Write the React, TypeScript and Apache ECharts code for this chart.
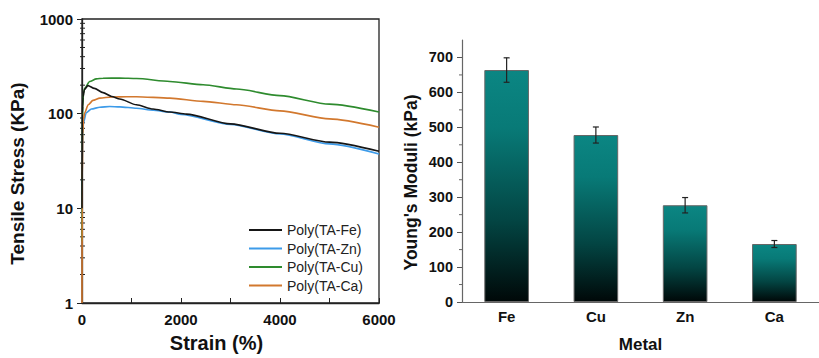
import React, { useEffect, useRef } from "react";
import * as echarts from "echarts";

// ---- Left panel: tensile curves (strain %, stress kPa) ----
const feStrain = [0, 5, 20, 50, 120, 250, 425, 600, 762, 1100, 1436, 1774, 2110, 3000, 4000, 5000, 6000];
const feStress = [10, 100, 150, 180, 198, 185, 167, 152, 143, 124, 112, 104, 99, 78, 62, 50, 40];

const znStrain = [0, 5, 15, 30, 85, 190, 360, 560, 762, 1100, 1436, 1774, 2000, 3000, 4000, 5000, 6000];
const znStress = [8, 30, 60, 80, 102, 112, 117, 119, 118, 114, 109, 104, 98, 77, 61, 48, 37.5];

const cuStrain = [0, 5, 15, 30, 55, 155, 290, 425, 762, 1100, 1774, 2448, 3122, 4000, 5000, 6000];
const cuStress = [4.5, 40, 120, 165, 186, 219, 233, 237, 238, 235, 219, 202, 182, 155, 126, 104];

const caStrain = [0, 5, 15, 30, 55, 125, 222, 360, 600, 900, 1100, 1774, 2448, 3122, 4000, 5000, 6000];
const caStress = [1, 20, 60, 88, 102, 124, 138, 146, 150, 151, 151, 146, 135, 124, 107, 88, 72];

const curveNames = ["Poly(TA-Fe)", "Poly(TA-Zn)", "Poly(TA-Cu)", "Poly(TA-Ca)"];
const logMinor = [2, 3, 4, 5, 6, 7, 8, 9, 20, 30, 40, 50, 60, 70, 80, 90, 200, 300, 400, 500, 600, 700, 800, 900];

// ---- Right panel: Young's moduli ----
const metals = ["Fe", "Cu", "Zn", "Ca"];
const moduli = [664, 478, 277, 166];
const moduliErr = [35, 23, 22, 10];
const modMajor = [0, 100, 200, 300, 400, 500, 600, 700];
const modMinor = [50, 150, 250, 350, 450, 550, 650];

const FONT = "'Liberation Sans', Arial, sans-serif";
const zip = (xs: number[], ys: number[]) => xs.map((x, i) => [x, ys[i]]);
const plain = (v: number) => String(v);

export default function App() {
  const ref = useRef<HTMLDivElement>(null);
  useEffect(() => {
    document.body.style.margin = "0";
    if (!ref.current) return;
    const chart = echarts.init(ref.current, null, { renderer: "svg" });
    const lineColors = ["#161616", "#3d9be9", "#2e8b2e", "#d2782e"];
    const curves = [
      zip(feStrain, feStress),
      zip(znStrain, znStress),
      zip(cuStrain, cuStress),
      zip(caStrain, caStress),
    ];
    // draws short ticks on the left edge of a grid at the given y values
    const tickRenderer = (dx1: number, dx2: number, color: string) => (params: any, api: any) => {
      const y = api.coord([0, api.value(0)])[1];
      const x = params.coordSys.x;
      return {
        type: "line",
        shape: { x1: x + dx1, y1: y, x2: x + dx2, y2: y },
        style: { stroke: color, lineWidth: 1 },
      };
    };
    const option: any = {
      animation: false,
      textStyle: { fontFamily: FONT },
      grid: [
        { left: 82, right: 440, top: 19, bottom: 54, show: true, borderColor: "#222", borderWidth: 1.3, backgroundColor: "transparent" },
        { left: 462, width: 362, top: 40, bottom: 49 },
      ],
      legend: {
        data: curveNames,
        orient: "vertical",
        left: 249,
        top: 221,
        padding: 0,
        itemWidth: 33,
        itemHeight: 2,
        itemGap: 0.5,
        icon: "rect",
        textStyle: { fontSize: 14, color: "#222", fontFamily: FONT, lineHeight: 18 },
      },
      xAxis: [
        {
          type: "value", gridIndex: 0, min: 0, max: 6000, interval: 2000,
          name: "Strain (%)", nameLocation: "middle", nameGap: 30,
          nameTextStyle: { fontSize: 20, fontWeight: "bold", color: "#111", fontFamily: FONT, padding: [0, 28, 0, 0] },
          axisLine: { lineStyle: { color: "#222", width: 1.3 } },
          axisTick: { inside: true, length: 5, lineStyle: { color: "#222" } },
          minorTick: { show: true, splitNumber: 2, length: 5, lineStyle: { color: "#222" } },
          axisLabel: { fontSize: 15, fontWeight: "bold", color: "#111", margin: 9, fontFamily: FONT, formatter: plain },
          splitLine: { show: false },
        },
        {
          type: "category", gridIndex: 1, data: metals, position: "bottom",
          name: "Metal", nameLocation: "middle", nameGap: 34,
          nameTextStyle: { fontSize: 17, fontWeight: "bold", color: "#111", fontFamily: FONT },
          axisLine: { lineStyle: { color: "#666", width: 1.2 } },
          axisTick: { alignWithLabel: true, length: 4, lineStyle: { color: "#555" } },
          axisLabel: { fontSize: 15, fontWeight: "bold", color: "#111", margin: 7, fontFamily: FONT },
        },
        {
          type: "category", gridIndex: 1, data: metals, position: "bottom",
          axisLine: { show: false },
          axisTick: { alignWithLabel: false, length: 2, lineStyle: { color: "#777" } },
          axisLabel: { show: false },
        },
      ],
      yAxis: [
        {
          type: "log", logBase: 10, gridIndex: 0, min: 1, max: 1000, position: "left",
          name: "Tensile Stress (KPa)", nameLocation: "middle", nameGap: 55,
          nameTextStyle: { fontSize: 19, fontWeight: "bold", color: "#111", fontFamily: FONT, padding: [0, 25, 0, 0] },
          axisLine: { show: true, lineStyle: { color: "#222", width: 1.3 } },
          axisTick: { show: true, inside: false, length: 5, lineStyle: { color: "#222" } },
          axisLabel: { fontSize: 15, fontWeight: "bold", color: "#111", margin: 9, fontFamily: FONT, formatter: plain },
          splitLine: { show: false },
        },
        {
          type: "value", gridIndex: 1, min: 0, max: 750, interval: 100, position: "left",
          name: "Young's Moduli (kPa)", nameLocation: "middle", nameGap: 42,
          nameTextStyle: { fontSize: 17.5, fontWeight: "bold", color: "#111", fontFamily: FONT, padding: [0, 23, 0, 0] },
          axisLine: { show: true, lineStyle: { color: "#666", width: 1.2 } },
          axisTick: { show: true, length: 5, customValues: modMajor, lineStyle: { color: "#555" } },
          axisLabel: { fontSize: 14.5, fontWeight: "bold", color: "#111", margin: 9, fontFamily: FONT, customValues: modMajor, formatter: plain },
          splitLine: { show: false },
        },
      ],
      series: [
        ...curves.map((d, i) => ({
          type: "line", name: curveNames[i], xAxisIndex: 0, yAxisIndex: 0,
          data: d, showSymbol: false, smooth: 0.25, smoothMonotone: "x",
          lineStyle: { color: lineColors[i], width: 1.6 }, itemStyle: { color: lineColors[i] },
          z: i === 0 ? 5 : 3,
        })),
        {
          type: "custom", xAxisIndex: 0, yAxisIndex: 0, clip: false, silent: true,
          data: logMinor.map((v) => [v]),
          encode: { y: 0 },
          renderItem: tickRenderer(-2, 3, "#222"),
        },
        {
          type: "bar", xAxisIndex: 1, yAxisIndex: 1, data: moduli, barWidth: "50%",
          itemStyle: {
            borderColor: "#666", borderWidth: 1,
            color: {
              type: "linear", x: 0, y: 0, x2: 0, y2: 1,
              colorStops: [
                { offset: 0, color: "#0b8683" },
                { offset: 0.25, color: "#087a77" },
                { offset: 0.65, color: "#034543" },
                { offset: 1, color: "#000808" },
              ],
            },
          },
        },
        {
          type: "custom", xAxisIndex: 1, yAxisIndex: 1, clip: false, silent: true,
          data: modMinor.map((v) => [v]),
          encode: { y: 0 },
          renderItem: tickRenderer(-3, 0, "#666"),
        },
        {
          type: "custom", xAxisIndex: 1, yAxisIndex: 1,
          data: moduli.map((v, i) => [i, v - moduliErr[i], v + moduliErr[i]]),
          z: 10,
          renderItem: (params: any, api: any) => {
            const x = api.value(0);
            const lo = api.coord([x, api.value(1)]);
            const hi = api.coord([x, api.value(2)]);
            const st = { stroke: "#222", lineWidth: 1.2 };
            return {
              type: "group",
              children: [
                { type: "line", shape: { x1: hi[0], y1: hi[1], x2: lo[0], y2: lo[1] }, style: st },
                { type: "line", shape: { x1: hi[0] - 3, y1: hi[1], x2: hi[0] + 3, y2: hi[1] }, style: st },
                { type: "line", shape: { x1: lo[0] - 3, y1: lo[1], x2: lo[0] + 3, y2: lo[1] }, style: st },
              ],
            };
          },
        },
      ],
    };
    chart.setOption(option);
    return () => chart.dispose();
  }, []);
  return <div ref={ref} style={{ width: 819, height: 358, position: "absolute", left: 0, top: 0 }} />;
}
